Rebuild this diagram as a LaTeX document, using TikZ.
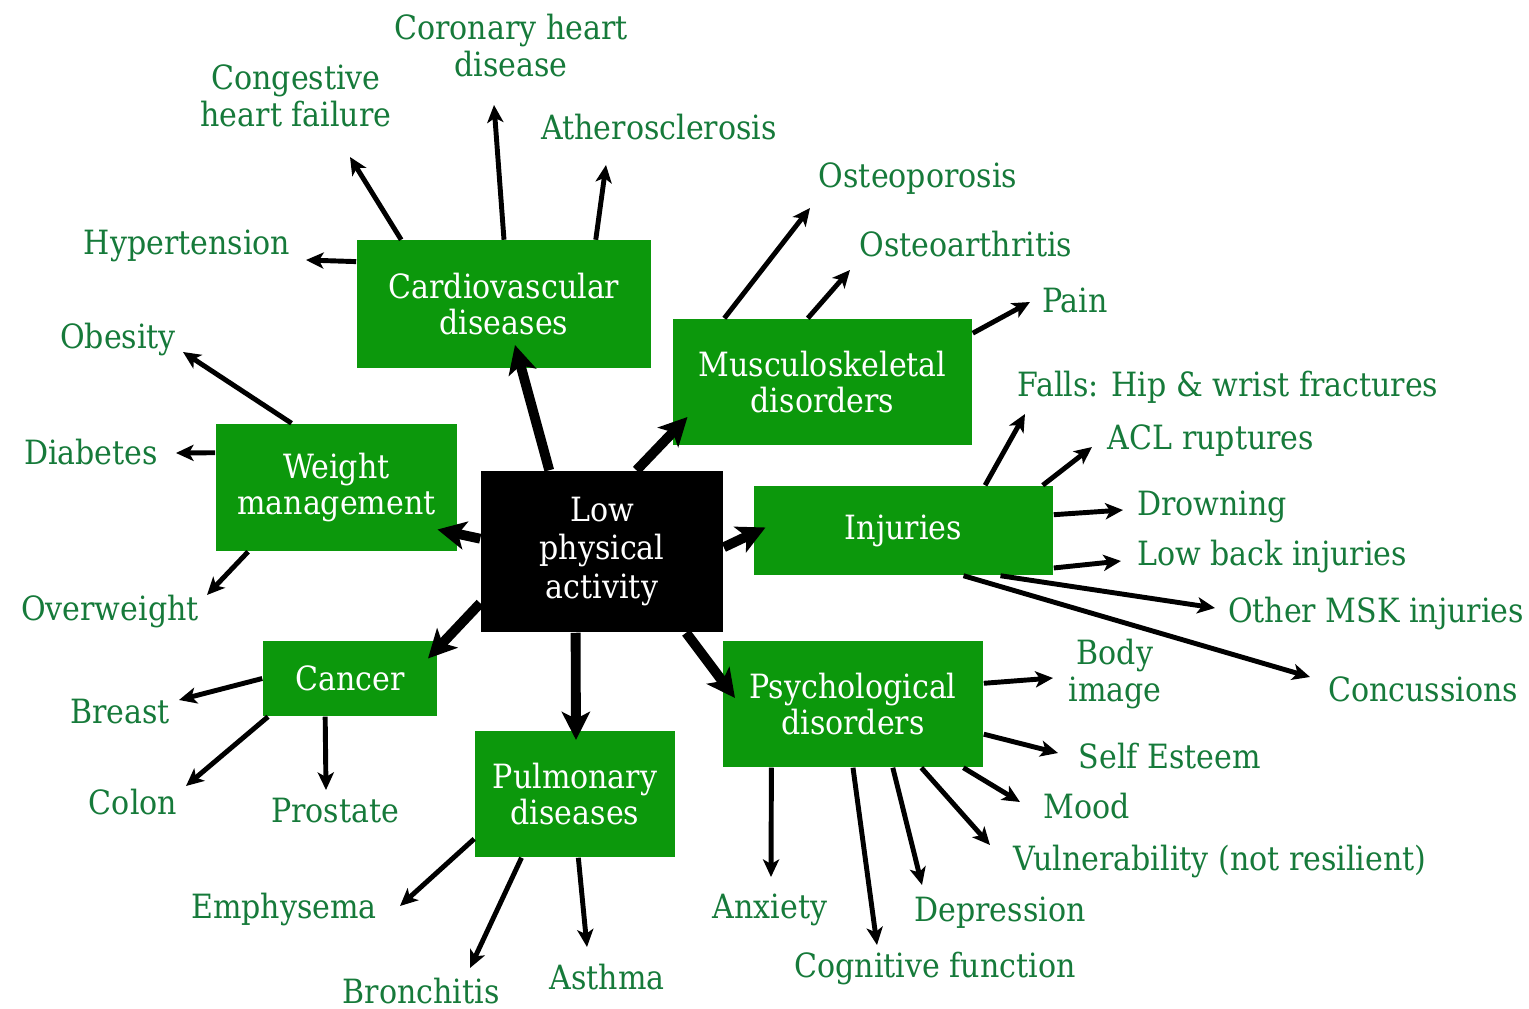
\documentclass[tikz,border=0pt]{standalone}
\usepackage{xcolor}
\usepackage{fontspec}
\setmainfont{DejaVu Serif Condensed}
\usepackage{tikz}
\usetikzlibrary{shapes,arrows.meta}
\definecolor{boxgreen}{RGB}{12,152,12}
\definecolor{labelgreen}{RGB}{22,122,58}

\begin{document}
\begin{tikzpicture}[
		x=0.01cm, y=-0.01cm,
		box/.style={fill=boxgreen, text=white, inner sep=0pt, align=center, font=\fontsize{9.5}{10}\selectfont},
		core/.style={box, fill=black, font=\fontsize{9.5}{11}\selectfont},
		effect/.style={text=labelgreen, inner sep=0pt, align=center, font=\fontsize{9.5}{10.5}\selectfont},
		arrow/.style={-{Stealth[length=5pt, width=4.6pt, inset=1.3pt]}, line width=1.4pt},
		bigarrow/.style={-{Stealth[length=8pt, width=8pt, inset=2pt]}, line width=2.8pt}
	]

	\useasboundingbox[fill=white] (0,0) rectangle (1529,1009);

	\node[core, minimum width=2.42cm, minimum height=1.61cm] (lpa) at (602,551.5) {Low\\physical\\activity};
	\node[box, minimum width=2.94cm, minimum height=1.27cm] (cardio) at (504,304) {Cardiovascular\\diseases};
	\node[box, minimum width=2.99cm, minimum height=1.26cm] (musc) at (822.5,382) {Musculoskeletal\\disorders};
	\node[box, minimum width=2.41cm, minimum height=1.27cm] (weight) at (336.5,487.5) {Weight\\management};
	\node[box, minimum width=2.99cm, minimum height=0.89cm] (inj) at (903.5,530.5) {Injuries};
	\node[box, minimum width=1.74cm, minimum height=0.75cm] (cancer) at (350,678.5) {Cancer};
	\node[box, minimum width=2.00cm, minimum height=1.26cm] (pulm) at (575,794) {Pulmonary\\diseases};
	\node[box, minimum width=2.60cm, minimum height=1.26cm] (psych) at (853,704) {Psychological\\disorders};

	\node[effect] (chd) at (511,46) {Coronary heart\\disease};
	\node[effect] (chf) at (296,96) {Congestive\\heart failure};
	\node[effect] (ath) at (659,127) {Atherosclerosis};
	\node[effect] (hyp) at (187,246) {Hypertension};
	\node[effect] (obes) at (118,340) {Obesity};
	\node[effect] (diab) at (91,452) {Diabetes};
	\node[effect] (overw) at (110,612) {Overweight};
	\node[effect] (breast) at (120,712) {Breast};
	\node[effect] (colon) at (133,802) {Colon};
	\node[effect] (prost) at (335,811) {Prostate};
	\node[effect] (emph) at (284,910) {Emphysema};
	\node[effect] (bronch) at (421,991) {Bronchitis};
	\node[effect] (asthma) at (607,977) {Asthma};
	\node[effect] (anx) at (770,910) {Anxiety};
	\node[effect] (cogn) at (935,969) {Cognitive function};
	\node[effect] (depr) at (1000,913) {Depression};
	\node[effect] (vuln) at (1220,862) {Vulnerability (not resilient)};
	\node[effect] (mood) at (1087,806) {Mood};
	\node[effect] (self) at (1170,756) {Self Esteem};
	\node[effect] (body) at (1115,674) {Body\\image};
	\node[effect] (conc) at (1423,689) {Concussions};
	\node[effect] (other) at (1376,614) {Other MSK injuries};
	\node[effect] (lowb) at (1272,557) {Low back injuries};
	\node[effect] (drown) at (1212,507) {Drowning};
	\node[effect] (acl) at (1211,441) {ACL ruptures};
	\node[effect] (falls) at (1228,387) {Falls: Hip \& wrist fractures};
	\node[effect] (pain) at (1075,300) {Pain};
	\node[effect] (oarth) at (966,244) {Osteoarthritis};
	\node[effect] (oporo) at (918,179) {Osteoporosis};

	\draw[bigarrow] (lpa.123) -- ([shift={(11,41)}]cardio.center);
	\draw[bigarrow] (lpa.67) -- ([shift={(-135,35)}]musc.center);
	\draw[bigarrow] (lpa.174) -- ([shift={(101,42)}]weight.center);
	\draw[bigarrow] (lpa.2) -- ([shift={(-138,-3)}]inj.center);
	\draw[bigarrow] (lpa.203) -- ([shift={(78,-20)}]cancer.center);
	\draw[bigarrow] (lpa.252) -- ([shift={(1,-54)}]pulm.center);
	\draw[bigarrow] (lpa.316) -- ([shift={(-118,-6)}]psych.center);

	\draw[arrow] (cardio.164) -- ([shift={(119,14)}]hyp.center);
	\draw[arrow] (cardio.148) -- ([shift={(54,61)}]chf.center);
	\draw[arrow] (cardio.90) -- ([shift={(-17,59)}]chd.center);
	\draw[arrow] (cardio.35) -- ([shift={(-53,38)}]ath.center);

	\draw[arrow] (musc.147) -- ([shift={(-108,29)}]oporo.center);
	\draw[arrow] (musc.103) -- ([shift={(-116,26)}]oarth.center);
	\draw[arrow] (musc.18) -- ([shift={(-45,2)}]pain.center);

	\draw[arrow] (weight.125) -- ([shift={(65,12)}]obes.center);
	\draw[arrow] (weight.164) -- ([shift={(85,1)}]diab.center);
	\draw[arrow] (weight.216) -- ([shift={(97,-17)}]overw.center);

	\draw[arrow] (inj.29) -- ([shift={(-203,27)}]falls.center);
	\draw[arrow] (inj.18) -- ([shift={(-119,6)}]acl.center);
	\draw[arrow] (inj.6) -- ([shift={(-89,3)}]drown.center);
	\draw[arrow] (inj.346) -- ([shift={(-151,4)}]lowb.center);
	\draw[arrow] (inj.335) -- ([shift={(-161,-6)}]other.center);
	\draw[arrow] (inj.323) -- ([shift={(-113,-12)}]conc.center);

	\draw[arrow] (cancer.180) -- ([shift={(59,-12)}]breast.center);
	\draw[arrow] (cancer.205) -- ([shift={(53,-16)}]colon.center);
	\draw[arrow] (cancer.237) -- ([shift={(-9,-21)}]prost.center);

	\draw[arrow] (pulm.204) -- ([shift={(116,-4)}]emph.center);
	\draw[arrow] (pulm.230) -- ([shift={(49,-23)}]bronch.center);
	\draw[arrow] (pulm.273) -- ([shift={(-20,-30)}]asthma.center);

	\draw[arrow] (psych.9) -- ([shift={(-62,4)}]body.center);
	\draw[arrow] (psych.347) -- ([shift={(-112,-3)}]self.center);
	\draw[arrow] (psych.330) -- ([shift={(-67,-4)}]mood.center);
	\draw[arrow] (psych.317) -- ([shift={(-230,-17)}]vuln.center);
	\draw[arrow] (psych.302) -- ([shift={(-78,-28)}]depr.center);
	\draw[arrow] (psych.270) -- ([shift={(-58,-24)}]cogn.center);
	\draw[arrow] (psych.218) -- ([shift={(1,-33)}]anx.center);

\end{tikzpicture}
\end{document}
